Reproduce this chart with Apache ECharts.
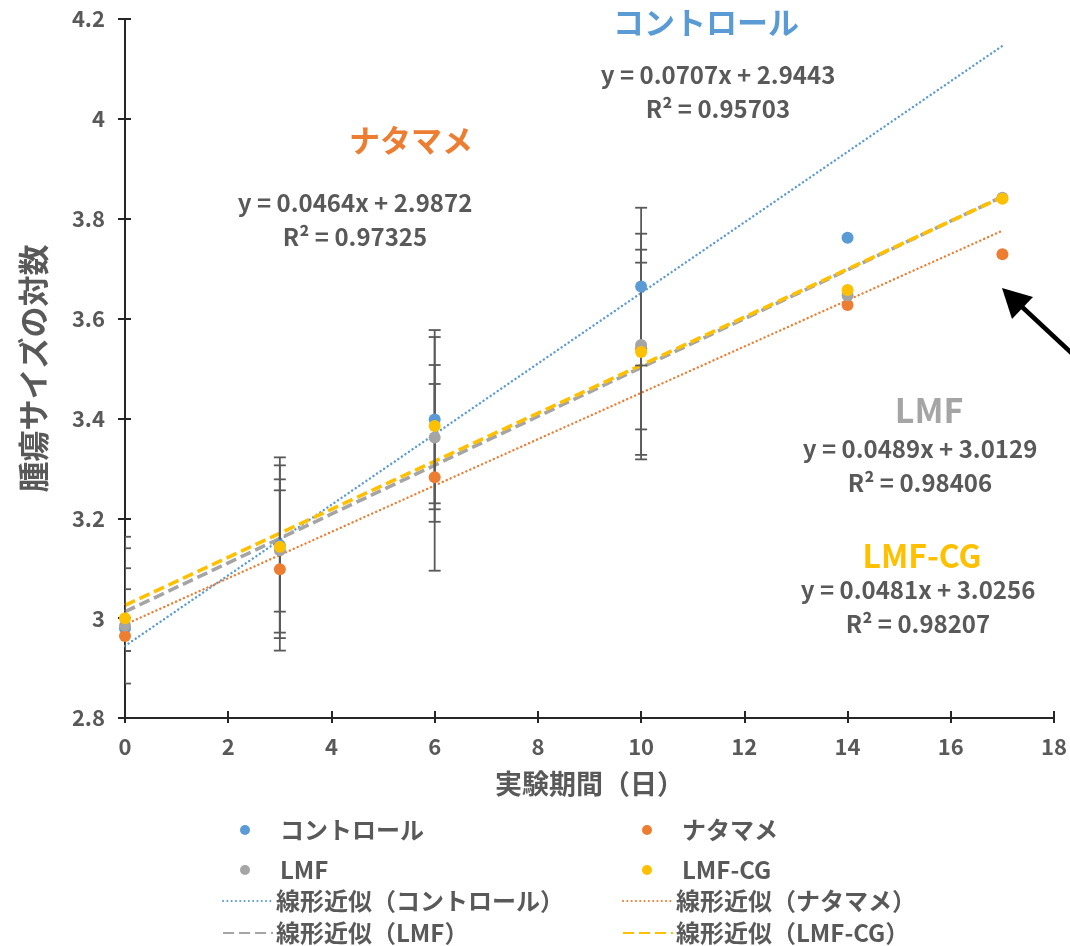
<!DOCTYPE html>
<html>
<head>
<meta charset="utf-8">
<script src="https://cdn.jsdelivr.net/npm/echarts@6/dist/echarts.min.js"></script>
<style>
  html, body { margin: 0; padding: 0; background: #ffffff; }
  #chart { width: 1070px; height: 946px; }
</style>
</head>
<body>
<div id="chart"></div>
<script>
// Measurement days
const days = [0, 3, 6, 10, 14, 17];

// Group names and colours
const groupNames = ['コントロール', 'ナタマメ', 'LMF', 'LMF-CG'];
const groupColors = ['#5B9BD5', '#ED7D31', '#A5A5A5', '#FFC000'];

// Mean log tumour size per day (null = not measured / off scale)
const controlMean  = [2.980, 3.146, 3.398, 3.664, 3.762, null];
const natamameMean = [2.964, 3.098, 3.282, 3.540, 3.627, 3.729];
const lmfMean      = [2.985, 3.136, 3.362, 3.547, 3.646, 3.842];
const lmfcgMean    = [3.000, 3.143, 3.385, 3.533, 3.657, 3.840];

// Error bar ends (upper / lower)
const controlHigh  = [3.140, 3.278, 3.577, 3.822, null, null];
const controlLow   = [2.934, 3.013, 3.218, 3.506, null, null];
const natamameHigh = [3.058, 3.256, 3.469, 3.712, null, null];
const natamameLow  = [2.869, 2.935, 3.095, 3.378, null, null];
const lmfHigh      = [3.163, 3.306, 3.507, 3.770, null, null];
const lmfLow       = [2.934, 2.971, 3.230, 3.318, null, null];
const lmfcgHigh    = [3.100, 3.322, 3.563, 3.738, null, null];
const lmfcgLow     = [2.934, 2.960, 3.193, 3.327, null, null];

// Linear fits (y = slope * x + intercept) and their R²
const slopes     = [0.0707, 0.0464, 0.0489, 0.0481];
const intercepts = [2.9443, 2.9872, 3.0129, 3.0256];
const rSquared   = ['0.95703', '0.97325', '0.98406', '0.98207'];
const fitRange   = [0, 17];

// Axis ranges
const xRange = { min: 0, max: 18, interval: 2 };
const yRange = { min: 2.8, max: 4.2, interval: 0.2 };

const means = [controlMean, natamameMean, lmfMean, lmfcgMean];
const highs = [controlHigh, natamameHigh, lmfHigh, lmfcgHigh];
const lows  = [controlLow, natamameLow, lmfLow, lmfcgLow];

const FONT = "'Noto Sans CJK JP', 'Noto Sans', sans-serif";
const TEXT = '#595959';
const AXIS = '#262626';

const fitName = (g) => '線形近似（' + g + '）';
const fitLineStyles = [
  { type: [0.1, 4.2], width: 2.4, cap: 'round' },
  { type: [0.1, 4.2], width: 2.4, cap: 'round' },
  { type: [11, 5], width: 3.6 },
  { type: [11, 5], width: 3.6 }
];

const series = [];

// Trend lines
groupNames.forEach((g, i) => {
  series.push({
    type: 'line',
    name: fitName(g),
    data: fitRange.map(x => [x, intercepts[i] + slopes[i] * x]),
    symbol: 'none',
    showSymbol: false,
    silent: true,
    z: 2 + i * 0.01,
    lineStyle: Object.assign({ color: groupColors[i] }, fitLineStyles[i]),
    itemStyle: { color: groupColors[i] }
  });
});

// Error bars
groupNames.forEach((g, i) => {
  const data = [];
  days.forEach((d, k) => {
    if (highs[i][k] != null) data.push([d, lows[i][k], highs[i][k]]);
  });
  series.push({
    type: 'custom',
    name: g + ' 誤差',
    data: data,
    clip: true,
    silent: true,
    z: 3,
    encode: { x: 0, y: [1, 2] },
    renderItem: function (params, api) {
      const x = api.value(0);
      const lo = api.coord([x, api.value(1)]);
      const hi = api.coord([x, api.value(2)]);
      const hw = 6;
      const style = { stroke: '#595959', lineWidth: 1.8, fill: null };
      return {
        type: 'group',
        children: [
          { type: 'line', shape: { x1: lo[0], y1: lo[1], x2: hi[0], y2: hi[1] }, style: style },
          { type: 'line', shape: { x1: lo[0] - hw, y1: lo[1], x2: lo[0] + hw, y2: lo[1] }, style: style },
          { type: 'line', shape: { x1: hi[0] - hw, y1: hi[1], x2: hi[0] + hw, y2: hi[1] }, style: style }
        ]
      };
    }
  });
});

// Mean points
groupNames.forEach((g, i) => {
  const data = [];
  days.forEach((d, k) => {
    if (means[i][k] != null) data.push([d, means[i][k]]);
  });
  series.push({
    type: 'scatter',
    name: g,
    data: data,
    symbol: 'circle',
    symbolSize: 12,
    z: 4,
    itemStyle: { color: groupColors[i], opacity: 1 }
  });
});

// Legend: two columns, four rows
const legendSlots = [
  { name: groupNames[0], left: 240, top: 818, marker: true },
  { name: groupNames[1], left: 642, top: 818, marker: true },
  { name: groupNames[2], left: 240, top: 858, marker: true },
  { name: groupNames[3], left: 642, top: 858, marker: true },
  { name: fitName(groupNames[0]), left: 222, top: 889, marker: false },
  { name: fitName(groupNames[1]), left: 622, top: 889, marker: false },
  { name: fitName(groupNames[2]), left: 222, top: 921, marker: false },
  { name: fitName(groupNames[3]), left: 622, top: 921, marker: false }
];
const legends = legendSlots.map((s) => {
  const lg = {
    data: [s.name],
    left: s.left,
    top: s.top,
    orient: 'horizontal',
    padding: 0,
    itemWidth: 50,
    itemHeight: s.marker ? 10 : 12,
    itemGap: 0,
    selectedMode: false,
    textStyle: { fontFamily: FONT, fontSize: 24, fontWeight: 'bold', color: TEXT, padding: [0, 0, 0, s.marker ? 5 : -2] }
  };
  // fit entries show only their line sample
  if (!s.marker) lg.itemStyle = { opacity: 0 };
  return lg;
});

// Group headings and fit equations
const headingPos = [
  { hx: 706, hy: 22, ex: 718, ey: 75, size: 31 },
  { hx: 411, hy: 140, ex: 355, ey: 203, size: 31 },
  { hx: 929, hy: 410, ex: 920, ey: 449, size: 34 },
  { hx: 922, hy: 556, ex: 918, ey: 590, size: 32 }
];
const graphics = [];
groupNames.forEach((g, i) => {
  const p = headingPos[i];
  graphics.push({
    type: 'text', x: p.hx, y: p.hy, z: 10, silent: true,
    style: { text: g, align: 'center', verticalAlign: 'middle', fontFamily: FONT, fontSize: p.size, fontWeight: 'bold', fill: groupColors[i] }
  });
  graphics.push({
    type: 'text', x: p.ex, y: p.ey, z: 10, silent: true,
    style: { text: 'y = ' + slopes[i].toFixed(4) + 'x + ' + intercepts[i].toFixed(4), align: 'center', verticalAlign: 'middle', fontFamily: FONT, fontSize: 24, fontWeight: 'bold', fill: TEXT }
  });
  graphics.push({
    type: 'text', x: p.ex, y: p.ey + 34, z: 10, silent: true,
    style: { text: 'R² = ' + rSquared[i], align: 'center', verticalAlign: 'middle', fontFamily: FONT, fontSize: 24, fontWeight: 'bold', fill: TEXT }
  });
});

// Pointer arrow at the right edge
graphics.push({
  type: 'group', z: 10, silent: true,
  children: [
    { type: 'line', shape: { x1: 1078, y1: 359, x2: 1020, y2: 305 }, style: { stroke: '#000', lineWidth: 4.5 } },
    { type: 'polygon', shape: { points: [[1002, 288], [1033, 297], [1012, 319]] }, style: { fill: '#000' } }
  ]
});

const labelStyle = { fontFamily: FONT, fontSize: 22, fontWeight: 'bold', color: TEXT };

const option = {
  animation: false,
  backgroundColor: '#ffffff',
  grid: { left: 125, right: 12, top: 19, bottom: 228, containLabel: false },
  xAxis: [
    {
      type: 'value', min: xRange.min, max: xRange.max, interval: xRange.interval,
      name: '実験期間（日）', nameLocation: 'middle', nameGap: 52,
      nameTextStyle: { fontFamily: FONT, fontSize: 27, fontWeight: 'bold', color: TEXT },
      axisLine: { show: true, onZero: false, lineStyle: { color: AXIS, width: 2 } },
      axisTick: { show: true, length: 5, lineStyle: { color: AXIS, width: 2 } },
      axisLabel: Object.assign({ margin: 18 }, labelStyle),
      splitLine: { show: false }
    },
    {
      type: 'value', position: 'bottom', offset: 0, min: xRange.min, max: xRange.max, interval: xRange.interval,
      axisLine: { show: false },
      axisTick: { show: true, inside: true, length: 7, lineStyle: { color: AXIS, width: 2 } },
      axisLabel: { show: false },
      splitLine: { show: false }
    }
  ],
  yAxis: [
    {
      type: 'value', min: yRange.min, max: yRange.max, interval: yRange.interval,
      name: '腫瘍サイズの対数', nameLocation: 'middle', nameGap: 76,
      nameTextStyle: { fontFamily: FONT, fontSize: 31, fontWeight: 'bold', color: TEXT },
      axisLine: { show: true, onZero: false, lineStyle: { color: AXIS, width: 2 } },
      axisTick: { show: true, length: 7, lineStyle: { color: AXIS, width: 2 } },
      axisLabel: Object.assign({ margin: 20 }, labelStyle),
      splitLine: { show: false }
    },
    {
      type: 'value', position: 'left', offset: 0, min: yRange.min, max: yRange.max, interval: yRange.interval,
      axisLine: { show: false },
      axisTick: { show: true, inside: true, length: 6, lineStyle: { color: AXIS, width: 2 } },
      axisLabel: { show: false },
      splitLine: { show: false }
    }
  ],
  legend: legends,
  series: series,
  graphic: graphics
};

const chart = echarts.init(document.getElementById('chart'), null, { renderer: 'canvas' });
chart.setOption(option);
</script>
</body>
</html>
